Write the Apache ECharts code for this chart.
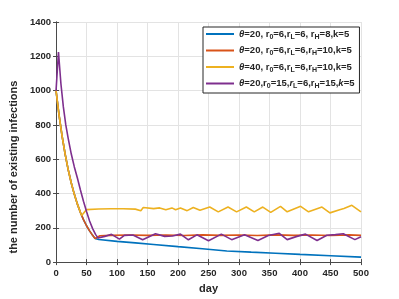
<!DOCTYPE html>
<html>
<head>
<meta charset="utf-8">
<script src="https://cdn.jsdelivr.net/npm/echarts@6/dist/echarts.min.js"></script>
<style>html,body{margin:0;padding:0;background:#fff}#c{width:399px;height:299px}</style>
</head>
<body>
<div id="c"></div>
<script>
// ---- data ----
const seriesNames = ['blue', 'orange', 'yellow', 'purple'];
const legendTexts = [
  '{i|θ}{t|=20, r}{s|0}{t|=6,r}{s|L}{t|=6, r}{s|H}{t|=8,k=5}',
  '{i|θ}{t|=20, r}{s|0}{t|=6,r}{s|L}{t|=6,r}{s|H}{t|=10,k=5}',
  '{i|θ}{t|=40, r}{s|0}{t|=6,r}{s|L}{t|=6,r}{s|H}{t|=10,k=5}',
  '{i|θ}{t|=20,r}{s|0}{t|=15,}{i|r}{s|L}{t|=6,r}{s|H}{t|=15,}{i|k}{t|=5}'
];
const colors = ['#0072BD', '#D95319', '#EDB120', '#7E2F8E'];

const blueDays = [0,5,10,15,20,25,30,35,40,45,50,55,60,64,70,100,130,160,200,240,280,320,360,400,450,500];
const blueVals = [1000,856,733,628,538,461,395,338,289,248,212,182,156,138,132,121,112,103,90,78,65,58,52,45,37,29];

const orangeDays = [0,5,10,15,20,25,30,35,40,45,50,55,60,64,72,90,120,150,180,210,240,270,300,330,360,390,420,450,480,500];
const orangeVals = [1000,856,733,628,538,461,395,338,289,248,212,182,156,138,154,156,158,156,158,155,159,156,158,155,159,156,158,155,159,156];

const yellowDays = [0,5,10,15,20,25,30,35,40,42,50,70,90,110,130,139,143,160,170,180,190,196,204,215,225,236,252,266,282,296,312,325,339,352,368,379,401,414,436,449,465,472,485,500];
const yellowVals = [1000,856,733,628,538,461,395,338,289,272,306,310,311,311,309,300,318,312,316,305,316,305,316,300,318,302,321,293,321,293,321,293,321,290,325,293,325,293,321,287,305,312,331,293];

const purpleDays = [0,4,8,12,16,20,25,30,35,40,45,50,55,60,65,69,80,91,104,112,126,142,163,178,191,204,217,231,250,271,288,309,331,348,366,379,395,409,428,444,458,471,490,500];
const purpleVals = [1000,1225,1040,905,800,720,630,555,490,420,355,295,240,195,160,140,150,162,134,156,158,130,165,150,152,163,130,159,124,163,131,159,126,155,168,131,150,163,126,157,160,165,131,148];

const xMin = 0, xMax = 500, xStep = 50;
const yMin = 0, yMax = 1400, yStep = 200;
const xTitle = 'day';
const yTitle = 'the number of existing infections';

// ---- chart ----
const FONT = 'Liberation Sans';
const pairs = (d, v) => d.map((x, i) => [x, v[i]]);
const allData = [pairs(blueDays, blueVals), pairs(orangeDays, orangeVals), pairs(yellowDays, yellowVals), pairs(purpleDays, purpleVals)];

const axisLine = { show: true, lineStyle: { color: '#4a4a4a', width: 1 } };
const tick = { show: true, inside: true, length: 3, lineStyle: { color: '#4a4a4a' } };
const lbl = { color: '#262626', fontSize: 9.5, fontWeight: 'bold', fontFamily: FONT, formatter: v => String(v) };

const chart = echarts.init(document.getElementById('c'), null, { renderer: 'canvas' });
chart.setOption({
  animation: false,
  backgroundColor: '#fff',
  grid: { left: 52, right: 38, top: 22, bottom: 33, containLabel: false },
  xAxis: [
    { type: 'value', min: xMin, max: xMax, interval: xStep, position: 'bottom',
      axisLine, axisTick: tick, axisLabel: Object.assign({ margin: 6 }, lbl),
      splitLine: { show: true, lineStyle: { color: '#e3e3e3', width: 1 } },
      name: xTitle, nameLocation: 'middle', nameGap: 19,
      nameTextStyle: { color: '#262626', fontSize: 11, fontWeight: 'bold', fontFamily: FONT } },
    { type: 'value', min: xMin, max: xMax, interval: xStep, position: 'top',
      axisLine, axisTick: tick, axisLabel: { show: false }, splitLine: { show: false } }
  ],
  yAxis: [
    { type: 'value', min: yMin, max: yMax, interval: yStep, position: 'left',
      axisLine, axisTick: tick, axisLabel: Object.assign({ margin: 5 }, lbl),
      splitLine: { show: true, lineStyle: { color: '#e3e3e3', width: 1 } },
      name: yTitle, nameLocation: 'middle', nameGap: 27, nameRotate: 90,
      nameTextStyle: { color: '#262626', fontSize: 11, fontWeight: 'bold', fontFamily: FONT, padding: [0, 50, 0, 0] } },
    { type: 'value', min: yMin, max: yMax, interval: yStep, position: 'right',
      axisLine, axisTick: tick, axisLabel: { show: false }, splitLine: { show: false } }
  ],
  legend: {
    orient: 'vertical', left: 203, top: 27,
    padding: [2, 5, 3, 2], itemGap: 5, itemWidth: 28, itemHeight: 12,
    backgroundColor: '#fff', borderColor: '#262626', borderWidth: 1, borderRadius: 0,
    itemStyle: { opacity: 0 },
    data: seriesNames,
    formatter: name => legendTexts[seriesNames.indexOf(name)],
    textStyle: {
      fontFamily: FONT, fontSize: 9.5, color: '#262626',
      rich: {
        t: { fontSize: 9.5, fontWeight: 'bold', fontFamily: FONT, color: '#262626', lineHeight: 13 },
        i: { fontSize: 9.5, fontWeight: 'bold', fontStyle: 'italic', fontFamily: FONT, color: '#262626', lineHeight: 13 },
        s: { fontSize: 7, fontWeight: 'bold', fontFamily: FONT, color: '#262626', verticalAlign: 'bottom', lineHeight: 7 }
      }
    }
  },
  series: seriesNames.map((n, k) => ({
    name: n, type: 'line', data: allData[k], xAxisIndex: 0, yAxisIndex: 0,
    symbol: 'none', showSymbol: false, smooth: false, color: colors[k],
    lineStyle: { color: colors[k], width: 1.6 }, z: 2 + k
  }))
});
</script>
</body>
</html>
